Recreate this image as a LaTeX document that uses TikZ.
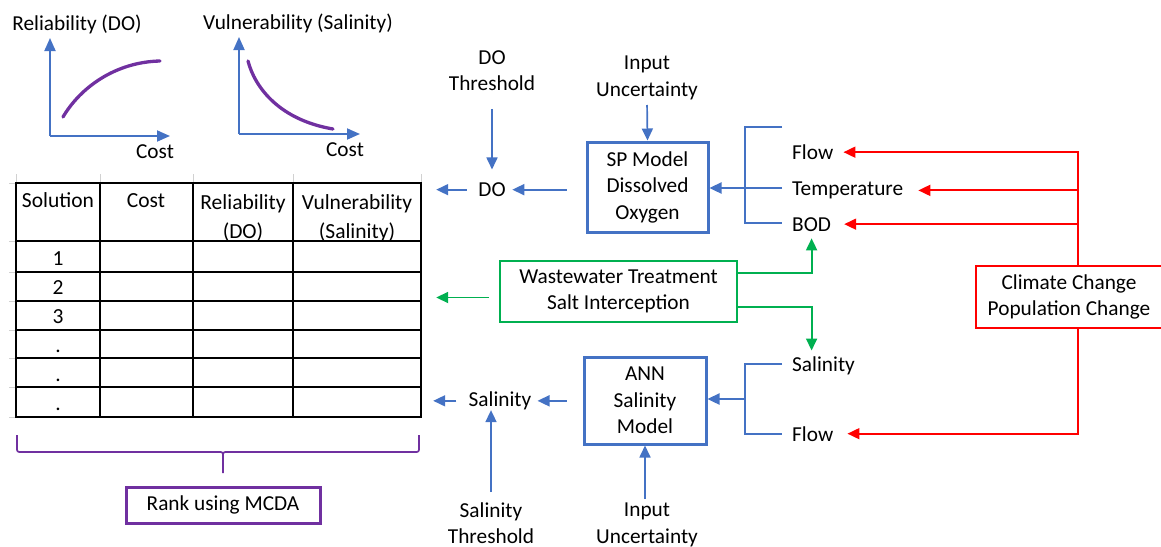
\documentclass[tikz,border=0pt]{standalone}
\usepackage{fontspec}
\setmainfont{Carlito}
\usetikzlibrary{arrows.meta}
\definecolor{oblue}{HTML}{4472C4}
\definecolor{ogreen}{HTML}{00B050}
\definecolor{ored}{HTML}{FF0000}
\definecolor{opurple}{HTML}{7030A0}
\begin{document}
\begin{tikzpicture}[x=1pt,y=-1pt,
  font=\fontsize{21.3}{26.5}\selectfont,
  lbl/.style={inner sep=0pt, align=center},
  tip/.style={-{Triangle[length=12pt,width=11pt]}},
  barr/.style={draw=oblue, line width=1.7pt, tip},
  garr/.style={draw=ogreen, line width=1.8pt, tip},
  rarr/.style={draw=ored, line width=1.8pt, tip},
  axisarr/.style={draw=oblue, line width=1.8pt, -{Triangle[length=13pt,width=11pt]}},
  curveline/.style={draw=opurple, line width=3.3pt, line cap=round},
  bracket/.style={draw=oblue, line width=1.5pt},
  modelbox/.style={draw=oblue, line width=3pt, align=center, inner sep=0pt},
  tline/.style={draw=black, line width=1.5pt},
  faint/.style={draw=black!18, line width=0.8pt},
  tfont/.style={font=\fontsize{21.5}{29}\selectfont}
]
\useasboundingbox (0,0) rectangle (1161,546);

% ---------- small charts ----------
\node[lbl, anchor=base] (rellab) at (77,30.5) {Reliability (DO)};
\coordinate (o1) at (50,136);
\draw[axisarr] (o1) -- (50,38);
\draw[axisarr] (o1) -- (170,136);
\draw[curveline] (63,117) .. controls (80,88) and (115,62) .. (160,61);
\node[lbl, anchor=base] (cost1) at (155,158) {Cost};

\node[lbl, anchor=base] (vullab) at (298,29.5) {Vulnerability (Salinity)};
\coordinate (o2) at (239,134);
\draw[axisarr] (o2) -- (239,37);
\draw[axisarr] (o2) -- (360,134);
\draw[curveline] (248,61) .. controls (255,88) and (280,120) .. (333,129);
\node[lbl, anchor=base] (cost2) at (345,156) {Cost};

% ---------- table ----------
\foreach \x in {16,100,193,293,421} \draw[faint] (\x,174) -- (\x,183);
\foreach \y in {183,241,272,301,330,358,387,417} \draw[faint] (9,\y) -- (16,\y);
\draw[tline] (100,183) -- (100,417);
\draw[tline] (193,183) -- (193,417);
\draw[tline] (293,183) -- (293,417);
\draw[draw=black, line width=2.3pt] (16,241) -- (421,241);
\foreach \y in {272,301,330,358,387} \draw[tline] (16,\y) -- (421,\y);
\node[draw=black, line width=2.4pt, minimum width=405pt, minimum height=234pt, inner sep=0pt] (tbl) at (218.5,300) {};

\node[lbl, tfont, anchor=base] (hsol) at (58,207) {Solution};
\node[lbl, tfont, anchor=base] (hcost) at (146,207) {Cost};
\node[lbl, tfont] (hrel) at (243,218) {Reliability\\(DO)};
\node[lbl, tfont] (hvul) at (357,218) {Vulnerability\\(Salinity)};
\node[lbl, tfont, anchor=base] (r1) at (58,265) {1};
\node[lbl, tfont, anchor=base] (r2) at (58,294) {2};
\node[lbl, tfont, anchor=base] (r3) at (58,323) {3};
\node[lbl, tfont, anchor=base] (r4) at (58,352) {.};
\node[lbl, tfont, anchor=base] (r5) at (58,381) {.};
\node[lbl, tfont, anchor=base] (r6) at (58,410) {.};

% ---------- brace and ranking ----------
\draw[draw=opurple, line width=1.7pt]
  (17,435) -- (17,447) .. controls (17,452) .. (22,452) -- (218,452)
  .. controls (223,452) .. (223,457) -- (223,473);
\draw[draw=opurple, line width=1.7pt]
  (223,457) .. controls (223,452) .. (228,452) -- (414,452)
  .. controls (419,452) .. (419,447) -- (419,435);
\node[draw=opurple, line width=3pt, minimum width=194pt, minimum height=36pt, inner sep=0pt] (rank) at (223,505) {Rank using MCDA};

% ---------- DO branch ----------
\node[lbl] (dothr) at (492,70.5) {DO\\Threshold};
\node[lbl, anchor=base] (do) at (492,196.5) {DO};
\node[lbl] (inunc1) at (647,78) {Input\\Uncertainty};
\node[modelbox, minimum width=121pt, minimum height=90pt] (sp) at (647.5,187) {SP Model\\Dissolved\\Oxygen};

\draw[barr, shorten <=18pt, shorten >=13pt] (dothr.south) -- (do.north);
\draw[barr, shorten <=19pt, shorten >=6.5pt] (sp.west |- do.east) -- (do.east);
\draw[barr, shorten <=11.5pt, shorten >=14pt] (do.west) -- (tbl.east |- do.west);
\draw[barr, shorten <=5pt] (inunc1.south) -- (sp.north);

\node[lbl, anchor=base west] (flow1) at (792,159.5) {Flow};
\node[lbl, anchor=base west] (temp) at (792,195.5) {Temperature};
\node[lbl, anchor=base west] (bod) at (792,231) {BOD};

\coordinate (spjoin) at (745,188);
\draw[bracket] (782,127) -- (745,127) -- (745,223) -- (782,223);
\draw[bracket] (782,188) -- (spjoin);
\draw[barr, line width=2.4pt] (spjoin) -- (sp.east |- spjoin);

% ---------- management options ----------
\node[draw=ogreen, line width=1.6pt, minimum width=237pt, minimum height=61pt, align=center, inner sep=0pt] (ww) at (618.5,291.5) {Wastewater Treatment\\Salt Interception};
\coordinate (wwout) at ([yshift=-6pt]ww.west);
\coordinate (wwup) at ([yshift=18.5pt]ww.east);
\coordinate (wwdown) at ([yshift=-15.5pt]ww.east);
\draw[garr, shorten <=10pt, shorten >=14pt] (wwout) -- (tbl.east |- wwout);

% ---------- salinity branch ----------
\node[lbl, anchor=base west] (salr) at (792,371.5) {Salinity};
\node[lbl, anchor=base west] (flow2) at (792,441) {Flow};
\node[modelbox, minimum width=122pt, minimum height=87pt] (ann) at (645,400.5) {ANN\\Salinity\\Model};
\node[lbl, anchor=base] (sall) at (500,406.5) {Salinity};
\node[lbl] (salthr) at (491,523) {Salinity\\Threshold};
\node[lbl] (inunc2) at (647,525) {Input\\Uncertainty};

\coordinate (annjoin) at (745,399);
\draw[bracket] (782,364) -- (745,364) -- (745,434) -- (782,434);
\draw[barr, line width=2.4pt] (annjoin) -- (ann.east |- annjoin);
\draw[barr, shorten <=16pt, shorten >=6pt] (ann.west |- sall.east) -- (sall.east);
\draw[barr, shorten <=12pt, shorten >=11pt] (sall.west) -- (tbl.east |- sall.west);
\draw[barr, shorten <=10pt] (salthr.north) -- (salthr.north |- sall.south);
\draw[barr, shorten <=4.5pt] (ann.south |- inunc2.north) -- (ann.south);

\draw[garr, shorten >=7pt] (wwup) -| (bod.south);
\draw[garr, shorten >=6pt] (wwdown) -| (bod.south |- salr.north);

% ---------- drivers ----------
\node[draw=ored, line width=1.6pt, minimum width=186pt, minimum height=62pt, align=center, inner sep=0pt] (cc) at (1069,297) {Climate Change\\Population Change};
\coordinate (rv1) at ([xshift=9pt]cc.north);
\coordinate (rv2) at ([xshift=9pt]cc.south);
\draw[rarr] (rv1) |- ([xshift=10pt]flow1.east);
\draw[rarr] (rv1 |- temp.east) -- ([xshift=15pt]temp.east);
\draw[rarr] (rv1 |- bod.east) -- ([xshift=13pt]bod.east);
\draw[rarr] (rv2) |- ([xshift=14pt]flow2.east);
\end{tikzpicture}
\end{document}
